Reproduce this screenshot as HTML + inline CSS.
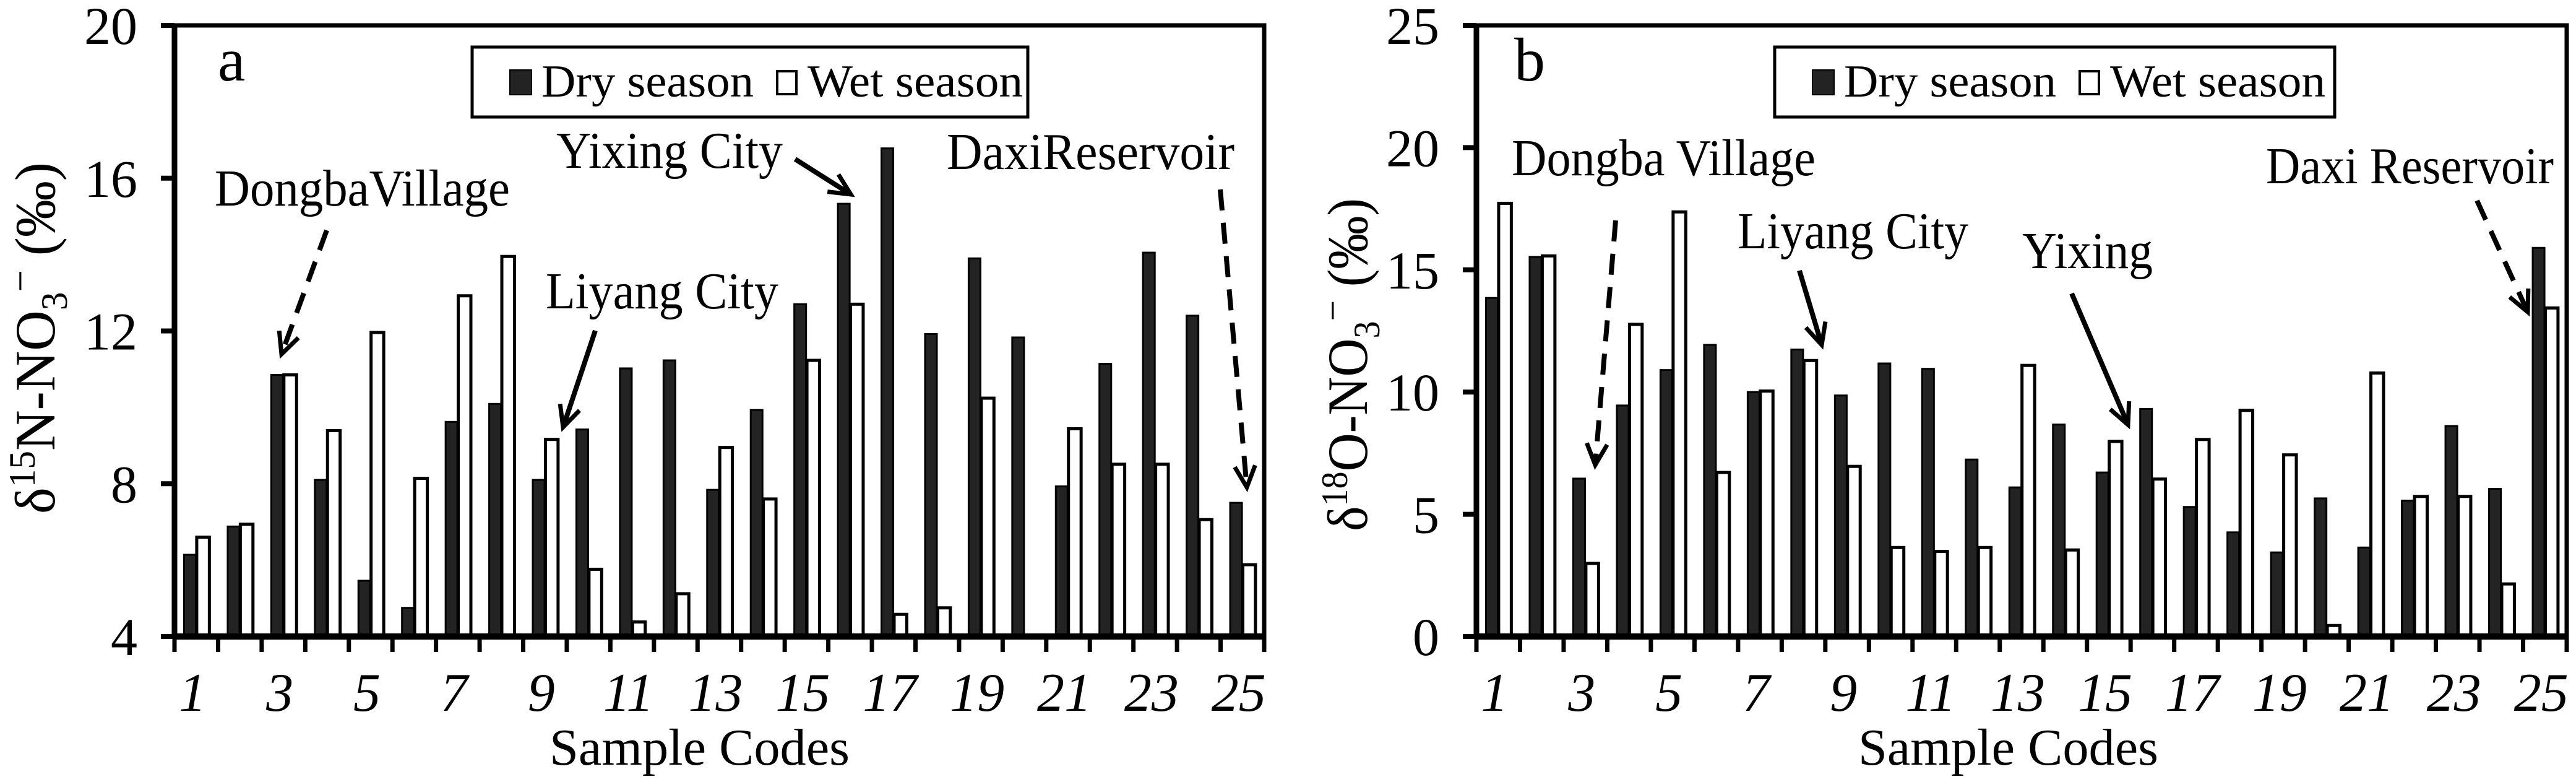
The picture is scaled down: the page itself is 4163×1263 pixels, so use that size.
<!DOCTYPE html>
<html><head><meta charset="utf-8"><style>
html,body{margin:0;padding:0;background:#fff;}
svg{display:block;}
svg text{font-family:"Liberation Serif","Times New Roman",serif;}
</style></head><body>
<svg id="fig" width="4163" height="1263" viewBox="0 0 4163 1263" xmlns="http://www.w3.org/2000/svg" font-family="Liberation Serif, serif"></svg>
<script>
const categories = ["1","2","3","4","5","6","7","8","9","10","11","12","13","14","15","16","17","18","19","20","21","22","23","24","25"];
const xTickLabels = ["1","3","5","7","9","11","13","15","17","19","21","23","25"];
const dryN = [6.14,6.88,10.85,8.1,5.46,4.75,9.62,10.09,8.1,9.42,11.02,11.23,7.84,9.93,12.7,15.33,16.78,11.92,13.9,11.83,7.93,11.14,14.05,12.4,7.5];
const wetN = [6.6,6.94,10.85,9.39,11.96,8.14,12.92,13.95,9.16,5.76,4.38,5.12,8.95,7.6,11.23,12.7,4.58,4.75,10.24,4.0,9.44,8.51,8.51,7.06,5.88];
const dryO = [13.85,15.53,6.46,9.45,10.9,11.93,10.0,11.74,9.86,11.17,10.95,7.24,6.1,8.67,6.71,9.31,5.3,4.26,3.44,5.65,3.64,5.56,8.61,6.04,15.9];
const wetO = [17.72,15.57,2.99,12.77,17.37,6.71,10.04,11.29,6.96,3.64,3.48,3.64,11.09,3.54,7.98,6.44,8.06,9.25,7.43,0.45,10.78,5.73,5.73,2.15,13.44];
const yTicksA = [4,8,12,16,20];
const yTicksB = [0,5,10,15,20,25];

const NS="http://www.w3.org/2000/svg";
const svg=document.getElementById('fig');
function mk(tag,attrs,parent){const e=document.createElementNS(NS,tag);for(const k in attrs)e.setAttribute(k,attrs[k]);(parent||svg).appendChild(e);return e;}

function panel(o){
  const g=mk('g',{});
  
  
  const L=o.left,R=o.right,T=o.top,B=o.bottom,n=categories.length,cw=(R-L)/n;
  const y=v=>B-(v-o.ymin)/(o.ymax-o.ymin)*(B-T);
  const xc=i=>L+i*cw;
  for(let i=0;i<n;i++){
    const d=mk('rect',{x:xc(i)+0.22*cw,y:y(o.dry[i]),width:0.27*cw,height:B-y(o.dry[i]),fill:'#232323',stroke:'#000','stroke-width':3},g);
    
    
    const w=mk('rect',{x:xc(i)+0.51*cw,y:y(o.wet[i]),width:0.29*cw,height:B-y(o.wet[i]),fill:'#fff',stroke:'#000','stroke-width':5},g);
    
    
  }
  const fr=mk('rect',{x:L,y:T,width:R-L,height:B-T,fill:'none',stroke:'#000','stroke-width':7},g);
  
  
  mk('line',{x1:L,y1:B,x2:R,y2:B,stroke:'#000','stroke-width':10},g);
  mk('line',{x1:L,y1:T,x2:L,y2:B,stroke:'#000','stroke-width':9},g);
  o.yticks.forEach(v=>{
    mk('line',{x1:L-22,y1:y(v),x2:L,y2:y(v),stroke:'#000','stroke-width':8},g);
    const t=mk('text',{x:L-60,y:y(v)+30,'text-anchor':'end','font-size':86},g);
    t.textContent=v;
    
    
  });
  for(let i=0;i<=n;i++) mk('line',{x1:xc(i),y1:B,x2:xc(i),y2:B+25,stroke:'#000','stroke-width':7},g);
  xTickLabels.forEach(lab=>{
    const i=categories.indexOf(lab);
    const t=mk('text',{x:xc(i)+cw/2-6,y:1148,'text-anchor':'middle','font-size':88,'font-style':'italic'},g);
    t.textContent=lab;
    
    
  });
  const xt=mk('text',{x:o.xtitleX,y:1235,'font-size':84,textLength:485,lengthAdjust:'spacingAndGlyphs'},g);
  xt.textContent='Sample  Codes';
  
  
  const pl=mk('text',{x:o.letterX,y:130,'font-size':100},g);
  pl.textContent=o.letter;
  
  
  const lg=mk('g',{},g);
  
  
  const lx=o.legX;
  mk('rect',{x:lx,y:76,width:o.legW,height:113,fill:'#fff',stroke:'#000','stroke-width':5},lg);
  mk('rect',{x:lx+61,y:113,width:35,height:40,fill:'#232323',stroke:'#000','stroke-width':2},lg);
  const t1=mk('text',{x:lx+112,y:156,'font-size':74,textLength:343,lengthAdjust:'spacingAndGlyphs'},lg);
  t1.textContent='Dry season';
  
  
  mk('rect',{x:lx+493,y:115,width:31,height:37,fill:'#fff',stroke:'#000','stroke-width':4},lg);
  const t2=mk('text',{x:lx+542,y:156,'font-size':74,textLength:348,lengthAdjust:'spacingAndGlyphs'},lg);
  t2.textContent='Wet season';
  
  
  const yt=mk('text',{transform:`translate(${o.ytX},${o.ytY}) rotate(-90)`,'font-size':92,textLength:o.ytLen,lengthAdjust:'spacingAndGlyphs'},g);
  yt.innerHTML=`δ<tspan dy="-32" font-size="60">${o.sup}</tspan><tspan dy="32">${o.elem}-NO</tspan><tspan dy="20" font-size="60">3</tspan><tspan dy="-54" font-size="64">−</tspan><tspan dy="34"> (‰)</tspan>`;
  
  
  o.notes.forEach(a=>{
    const t=mk('text',{x:a.x,y:a.y,'font-size':84,textLength:a.w,lengthAdjust:'spacingAndGlyphs'},g);
    t.textContent=a.t;
    
    
    const ln=mk('line',{x1:a.a[0],y1:a.a[1],x2:a.a[2],y2:a.a[3],stroke:'#000','stroke-width':8,'stroke-dasharray':a.d?'34,20':'none'},g);
    
    
    const ang=Math.atan2(a.a[3]-a.a[1],a.a[2]-a.a[0]),h=38,s=0.45;
    const p1=[a.a[2]-h*Math.cos(ang-s),a.a[3]-h*Math.sin(ang-s)],p2=[a.a[2]-h*Math.cos(ang+s),a.a[3]-h*Math.sin(ang+s)];
    mk('polyline',{points:`${p1} ${a.a[2]},${a.a[3]} ${p2}`,fill:'none',stroke:'#000','stroke-width':7},g);
  });
}

panel({name:'panel-a-d15N',left:282,right:2043,top:41,bottom:1028,ymin:4,ymax:20,dry:dryN,wet:wetN,yticks:yTicksA,
  letter:'a',letterX:352,legX:763,legW:898,xtitleX:888,ytX:88,ytY:830,ytLen:568,sup:'15',elem:'N',
  notes:[
    {t:'DongbaVillage',x:347,y:332,w:477,a:[528,372,455,572],d:true},
    {t:'Liyang City',x:882,y:498,w:376,a:[962,534,910,690],d:false},
    {t:'Yixing City',x:899,y:271,w:366,a:[1285,257,1375,314],d:false},
    {t:'DaxiReservoir',x:1530,y:273,w:465,a:[1972,306,2015,787],d:true}
  ]});
panel({name:'panel-b-d18O',left:2386,right:4148,top:41,bottom:1028,ymin:0,ymax:25,dry:dryO,wet:wetO,yticks:yTicksB,
  letter:'b',letterX:2447,legX:2868,legW:905,xtitleX:3003,ytX:2209,ytY:858,ytLen:538,sup:'18',elem:'O',
  notes:[
    {t:'Dongba Village',x:2443,y:283,w:491,a:[2611,356,2578,751],d:true},
    {t:'Liyang City',x:2808,y:401,w:373,a:[2908,437,2944,557],d:false},
    {t:'Yixing',x:3268,y:433,w:211,a:[3348,474,3439,686],d:false},
    {t:'Daxi Reservoir',x:3662,y:296,w:465,a:[4003,324,4085,504],d:true}
  ]});
</script>
</body></html>
